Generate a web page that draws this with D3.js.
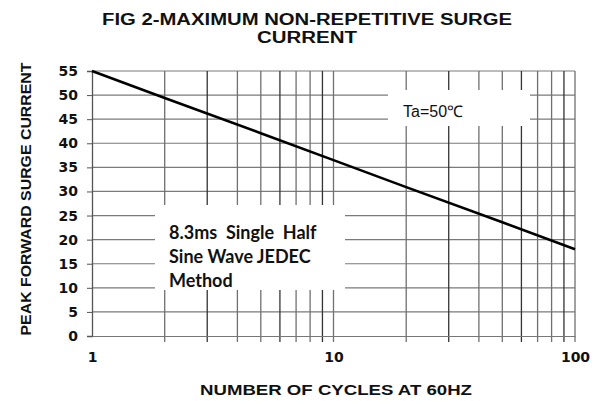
<!DOCTYPE html>
<html>
<head>
<meta charset="utf-8">
<script src="https://cdn.jsdelivr.net/npm/d3@7"></script>
<style>
  body { margin: 0; background: #fff; }
  svg { display: block; }
  text { font-family: "Liberation Sans", Arial, sans-serif; fill: #111; }
</style>
</head>
<body>
<svg id="chart" width="606" height="401"></svg>
<script>
// data
const cycles = [1, 2, 5, 10, 20, 50, 100];
const surgeCurrent = [55, 49.4, 42.1, 36.5, 30.9, 23.6, 18];
const yTicks = [0, 5, 10, 15, 20, 25, 30, 35, 40, 45, 50, 55];
const xLabelTicks = [1, 10, 100];
const xGridValues = [2, 3, 4, 5, 6, 7, 8, 9, 10, 20, 30, 40, 50, 60, 70, 80, 90, 100];
const noteLines = ["8.3ms  Single  Half", "Sine Wave JEDEC", "Method"];

const svg = d3.select("#chart");
const margin = { top: 71, right: 31, bottom: 65, left: 92 };
const width = 606, height = 401;
const innerWidth = width - margin.left - margin.right;
const innerHeight = height - margin.top - margin.bottom;

const chart = svg.append("g")
  .attr("transform", `translate(${margin.left}, ${margin.top})`);

const xScale = d3.scaleLog().domain([1, 100]).range([0, innerWidth]);
const yScale = d3.scaleLinear().domain([0, 55]).range([innerHeight, 0]);

// grid
chart.append("g")
  .selectAll("line")
  .data(yTicks.slice(1))
  .join("line")
  .attr("x1", 0).attr("x2", innerWidth)
  .attr("y1", d => yScale(d)).attr("y2", d => yScale(d))
  .attr("stroke", "#7a7a7a").attr("stroke-width", 1.2);

chart.append("g")
  .selectAll("line")
  .data(xGridValues)
  .join("line")
  .attr("x1", d => xScale(d)).attr("x2", d => xScale(d))
  .attr("y1", 0).attr("y2", innerHeight + 6)
  .attr("stroke", (d, i) => (i % 3 === 1 ? "#333" : "#707070"))
  .attr("stroke-width", 1.3);

// axes
const yAxis = chart.append("g")
  .call(d3.axisLeft(yScale).tickValues(yTicks).tickSize(5).tickPadding(9));
yAxis.select(".domain").attr("stroke", "#555").attr("stroke-width", 1.3);
yAxis.selectAll(".tick line").attr("stroke", "#555");
yAxis.selectAll("text")
  .style("font-family", "'DejaVu Sans', Verdana, sans-serif")
  .attr("font-size", 14).attr("font-weight", "bold").attr("fill", "#111");

const xAxis = chart.append("g")
  .attr("transform", `translate(0, ${innerHeight})`)
  .call(d3.axisBottom(xScale).tickValues(xLabelTicks).tickFormat(d3.format("d")).tickSize(0).tickPadding(16));
xAxis.select(".domain").attr("stroke", "#777").attr("stroke-width", 1.2);
xAxis.selectAll("text")
  .style("font-family", "'DejaVu Sans', Verdana, sans-serif")
  .attr("font-size", 14).attr("font-weight", "bold").attr("fill", "#111");

// white boxes behind notes
chart.append("rect")
  .attr("x", 388 - margin.left).attr("y", 90 - margin.top)
  .attr("width", 142).attr("height", 36)
  .attr("fill", "#fff");

chart.append("rect")
  .attr("x", 155 - margin.left).attr("y", 205 - margin.top)
  .attr("width", 190).attr("height", 85)
  .attr("fill", "#fff");

// curve
const line = d3.line()
  .x((d, i) => xScale(cycles[i]))
  .y(d => yScale(d));

chart.append("path")
  .datum(surgeCurrent)
  .attr("d", line)
  .attr("fill", "none")
  .attr("stroke", "#000")
  .attr("stroke-width", 2.6);

// notes
svg.append("text")
  .attr("x", 403).attr("y", 117)
  .attr("font-size", 16)
  .text("Ta=50℃");

svg.append("g")
  .selectAll("text")
  .data(noteLines)
  .join("text")
  .attr("x", 169)
  .attr("y", (d, i) => 239 + i * 24)
  .style("font-family", "Lato, 'Open Sans', sans-serif")
  .attr("font-size", 18)
  .attr("font-weight", "bold")
  .attr("xml:space", "preserve")
  .text(d => d);

// title
svg.append("text")
  .attr("x", 307).attr("y", 25)
  .attr("text-anchor", "middle")
  .attr("font-size", 16).attr("font-weight", "bold")
  .attr("textLength", 410).attr("lengthAdjust", "spacingAndGlyphs")
  .text("FIG 2-MAXIMUM NON-REPETITIVE SURGE");

svg.append("text")
  .attr("x", 307).attr("y", 43)
  .attr("text-anchor", "middle")
  .attr("font-size", 16).attr("font-weight", "bold")
  .attr("textLength", 100).attr("lengthAdjust", "spacingAndGlyphs")
  .text("CURRENT");

// axis labels
svg.append("text")
  .attr("x", 336).attr("y", 395)
  .attr("text-anchor", "middle")
  .attr("font-size", 14).attr("font-weight", "bold")
  .attr("textLength", 272).attr("lengthAdjust", "spacingAndGlyphs")
  .text("NUMBER OF CYCLES AT 60HZ");

svg.append("text")
  .attr("transform", "translate(31, 199) rotate(-90)")
  .attr("text-anchor", "middle")
  .attr("font-size", 15).attr("font-weight", "bold")
  .attr("textLength", 273).attr("lengthAdjust", "spacingAndGlyphs")
  .text("PEAK FORWARD SURGE CURRENT");
</script>
</body>
</html>
